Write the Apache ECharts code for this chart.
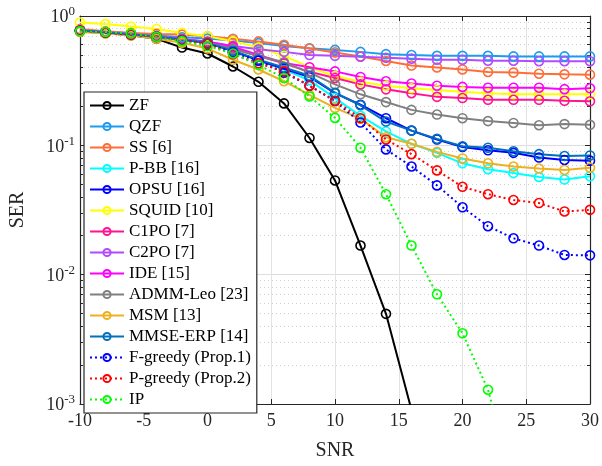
<!DOCTYPE html>
<html><head><meta charset="utf-8">
<script src="https://cdn.jsdelivr.net/npm/echarts@6/dist/echarts.min.js"></script>
<style>html,body{margin:0;padding:0;background:#fff}#c{width:602px;height:466px}</style>
</head><body><div id="c"></div>
<script>
var snr = [-10,-8,-6,-4,-2,0,2,4,6,8,10,12,14,16,18,20,22,24,26,28,30];
var xTicks = [-10,-5,0,5,10,15,20,25,30];
var yTicks = [1e-3,1e-2,1e-1,1];
var names = ['ZF','QZF','SS [6]','P-BB [16]','OPSU [16]','SQUID [10]','C1PO [7]','C2PO [7]','IDE [15]','ADMM-Leo [23]','MSM [13]','MMSE-ERP [14]','F-greedy (Prop.1)','P-greedy (Prop.2)','IP'];
var ZF = [0.761,0.740,0.710,0.667,0.570,0.513,0.407,0.310,0.211,0.114,0.0535,0.0168,0.00498,0.0009,null,null,null,null,null,null,null];
var QZF = [0.779,0.757,0.735,0.706,0.685,0.670,0.647,0.617,0.586,0.563,0.547,0.528,0.507,0.499,0.492,0.492,0.492,0.487,0.487,0.487,0.487];
var SS = [0.793,0.761,0.740,0.727,0.718,0.698,0.667,0.636,0.600,0.560,0.523,0.487,0.449,0.414,0.400,0.386,0.369,0.365,0.358,0.354,0.352];
var PBB = [0.775,0.748,0.722,0.690,0.655,0.620,0.535,0.455,0.385,0.318,0.232,0.169,0.128,0.1028,0.0875,0.0726,0.0654,0.0610,0.0569,0.0544,0.0576];
var OPSU = [0.772,0.745,0.720,0.690,0.655,0.620,0.535,0.455,0.390,0.338,0.253,0.206,0.162,0.130,0.111,0.097,0.0915,0.0875,0.0805,0.0771,0.0761];
var SQUID = [0.890,0.866,0.830,0.793,0.740,0.698,0.639,0.570,0.492,0.402,0.344,0.310,0.289,0.276,0.268,0.260,0.253,0.248,0.248,0.248,0.248];
var C1PO = [0.770,0.745,0.720,0.690,0.655,0.630,0.560,0.490,0.430,0.370,0.332,0.296,0.271,0.253,0.237,0.232,0.225,0.225,0.225,0.221,0.219];
var C2PO = [0.775,0.750,0.725,0.695,0.665,0.630,0.586,0.553,0.528,0.499,0.492,0.484,0.476,0.468,0.459,0.459,0.451,0.451,0.447,0.447,0.447];
var IDE = [0.772,0.748,0.722,0.692,0.660,0.635,0.580,0.500,0.434,0.402,0.373,0.338,0.313,0.301,0.289,0.283,0.279,0.279,0.279,0.272,0.276];
var ADMM = [0.772,0.745,0.720,0.690,0.655,0.625,0.555,0.490,0.439,0.365,0.296,0.248,0.216,0.188,0.173,0.162,0.154,0.149,0.143,0.146,0.144];
var MSM = [0.753,0.731,0.706,0.667,0.622,0.560,0.459,0.386,0.313,0.2455,0.1948,0.1608,0.1156,0.1028,0.089,0.0792,0.0726,0.0686,0.0662,0.0645,0.0672];
var MMSE = [0.772,0.745,0.720,0.690,0.655,0.620,0.540,0.460,0.400,0.345,0.255,0.204,0.1527,0.130,0.1122,0.0983,0.0959,0.090,0.0855,0.0826,0.0835];
var FG = [0.770,0.745,0.720,0.690,0.650,0.610,0.523,0.451,0.365,0.289,0.220,0.150,0.093,0.0686,0.049,0.0332,0.0237,0.0191,0.0168,0.0142,0.0141];
var PG = [0.770,0.745,0.720,0.690,0.650,0.610,0.507,0.431,0.373,0.289,0.221,0.162,0.111,0.0855,0.064,0.0478,0.0419,0.0378,0.0358,0.0308,0.0317];
var IP = [0.761,0.753,0.731,0.690,0.639,0.586,0.513,0.419,0.332,0.239,0.163,0.0959,0.0419,0.0168,0.00705,0.00352,0.00129,0.00025,null,null,null];
var allData = [ZF,QZF,SS,PBB,OPSU,SQUID,C1PO,C2PO,IDE,ADMM,MSM,MMSE,FG,PG,IP];
var colors = ['#000000','#1E9BEF','#FF6E3A','#00FFFF','#0000FF','#FFFF00','#FF1493','#B24BFF','#FF00FF','#808080','#EDB120','#0072BD','#0000FF','#FF0000','#00FF00'];
var dotted = [false,false,false,false,false,false,false,false,false,false,false,false,true,true,true];

var serif = 'Liberation Serif';
var series = names.map(function(n,i){
  return {
    name: n, type: 'line', xAxisIndex: 0, yAxisIndex: 0,
    data: snr.map(function(x,j){ return [x, allData[i][j]]; }),
    symbol: 'circle', symbolSize: 9, clip: true, connectNulls: false,
    lineStyle: {color: colors[i], width: 2, type: dotted[i] ? [2,3] : 'solid'},
    itemStyle: {color: 'rgba(255,255,255,0)', borderColor: colors[i], borderWidth: 1.6},
    emphasis: {disabled: true}, animation: false
  };
});

var chart = echarts.init(document.getElementById('c'), null, {renderer:'canvas'});
var tickStyle = {show:true, inside:true, length:5, lineStyle:{color:'#262626', width:1}};
var axisLineStyle = {show:true, onZero:false, lineStyle:{color:'#262626', width:1.2}};
chart.setOption({
  animation: false,
  backgroundColor: '#fff',
  grid: {left: 80, right: 12, top: 16, bottom: 53, containLabel: false},
  legend: {
    orient: 'vertical', left: 84, top: 92, padding: [5,6,5,5],
    itemGap: 4, itemWidth: 34, itemHeight: 9,
    backgroundColor: '#fff', borderColor: '#262626', borderWidth: 1.2,
    textStyle: {fontFamily: serif, fontSize: 17, color: '#000'},
    data: names
  },
  xAxis: [
    {type:'value', min:-10, max:30, interval:5, position:'bottom',
     axisLine: axisLineStyle, axisTick: tickStyle,
     axisLabel: {fontFamily: serif, fontSize: 18, color:'#262626', margin: 8,
       formatter: function(v){ return xTicks.indexOf(v) >= 0 ? String(v) : ''; }},
     splitLine: {show:true, lineStyle:{color:'#e3e3e3', width:1}},
     name: 'SNR', nameLocation: 'middle', nameGap: 37,
     nameTextStyle: {fontFamily: serif, fontSize: 20, color:'#262626'}},
    {type:'value', min:-10, max:30, interval:5, position:'top',
     axisLine: axisLineStyle, axisTick: tickStyle, axisLabel:{show:false}, splitLine:{show:false}}
  ],
  yAxis: [
    {type:'log', logBase:10, min:1e-3, max:1, position:'left',
     axisLine: axisLineStyle, axisTick: tickStyle,
     minorTick: {show:true, splitNumber: 9, length: 3, lineStyle:{color:'#262626'}},
     minorSplitLine: {show:true, lineStyle:{color:'#cfcfcf', type:[1,3], width:1}},
     splitLine: {show:true, lineStyle:{color:'#dedede', width:1}},
     axisLabel: {margin: 5, color:'#262626',
       formatter: function(v){ var e = Math.round(Math.log10(v)); return '{b|10}{s|' + e + '}'; },
       rich: {b:{fontFamily: serif, fontSize: 18, color:'#262626', verticalAlign:'bottom'},
              s:{fontFamily: serif, fontSize: 13, color:'#262626', verticalAlign:'top', padding:[0,0,8,0]}}},
     name: 'SER', nameLocation: 'middle', nameGap: 52, nameRotate: 90,
     nameTextStyle: {fontFamily: serif, fontSize: 20, color:'#262626'}},
    {type:'log', logBase:10, min:1e-3, max:1, position:'right',
     axisLine: axisLineStyle, axisTick: tickStyle,
     minorTick: {show:true, splitNumber: 9, length: 3, lineStyle:{color:'#262626'}},
     axisLabel:{show:false}, splitLine:{show:false}}
  ],
  series: series
});
</script></body></html>
